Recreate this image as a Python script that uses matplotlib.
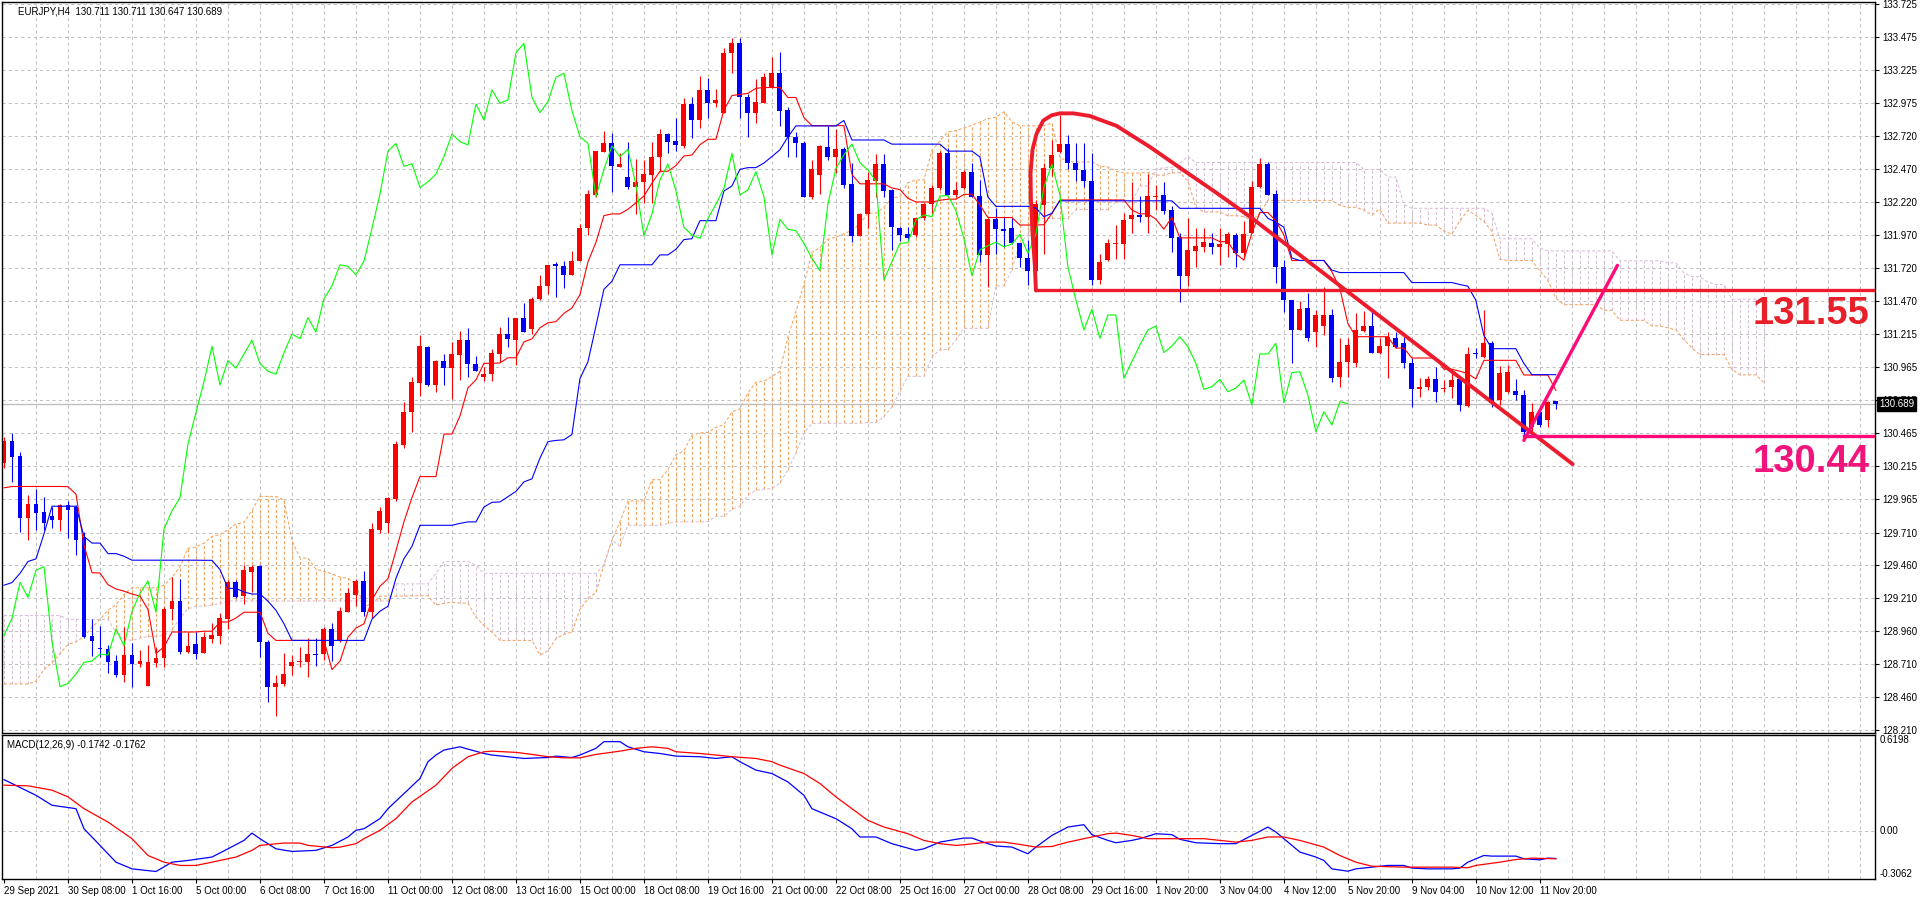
import numpy as np
import pandas as pd
import matplotlib
matplotlib.use("Agg")
import matplotlib.pyplot as plt
from matplotlib.transforms import blended_transform_factory

plt.rcParams['font.family'] = ['Liberation Sans', 'DejaVu Sans']

# EURJPY H4 candles, bar 0 = 29 Sep 2021 00:00
opens = [130.236, 130.405, 130.292, 129.823, 129.927, 129.866, 129.836, 129.805, 129.917, 129.907,
         129.678, 128.924, 128.835, 128.823, 128.734, 128.627, 128.779, 128.711, 128.546, 128.721,
         128.754, 129.126, 129.190, 128.805, 128.860, 128.792, 128.904, 128.926, 129.053, 129.331,
         129.230, 129.413, 129.458, 128.881, 128.539, 128.559, 128.696, 128.724, 128.729, 128.787,
         128.787, 128.977, 128.893, 129.109, 129.235, 129.342, 129.109, 129.729, 129.780, 129.965,
         130.375, 130.623, 130.849, 131.116, 130.834, 131.017, 130.959, 131.058, 131.171, 130.994,
         130.892, 130.913, 131.067, 131.218, 131.174, 131.343, 131.256, 131.483, 131.581, 131.750,
         131.733, 131.669, 131.771, 132.021, 132.274, 132.602, 132.666, 132.489, 132.410, 132.332,
         132.376, 132.427, 132.561, 132.738, 132.685, 132.647, 132.966, 132.845, 133.073, 132.976,
         132.900, 133.351, 133.427, 133.017, 132.900, 132.976, 133.093, 133.199, 132.921, 132.718,
         132.667, 132.262, 132.427, 132.642, 132.566, 132.622, 132.358, 131.963, 132.130, 132.384,
         132.510, 132.313, 132.021, 131.975, 131.971, 132.097, 132.204, 132.325, 132.591, 132.275,
         132.325, 132.452, 132.267, 131.819, 132.090, 132.019, 132.024, 131.913, 131.793, 131.700,
         132.199, 132.477, 132.604, 132.662, 132.520, 132.465, 132.381, 131.629, 131.781, 131.902,
         131.902, 132.090, 132.123, 132.110, 132.262, 132.275, 132.161, 131.958, 131.662, 131.852,
         131.882, 131.907, 131.882, 131.900, 131.971, 131.837, 131.983, 132.333, 132.508, 132.282,
         131.730, 131.477, 131.249, 131.414, 131.236, 131.282, 131.363, 130.889, 131.008, 130.996,
         131.244, 131.279, 131.077, 131.127, 131.186, 131.153, 130.996, 130.798, 130.813, 130.874,
         130.798, 130.813, 130.874, 130.671, 131.072, 131.046, 131.153, 130.717, 130.780, 130.788,
         130.755, 130.514, 130.628, 130.565, 130.711]
highs = [130.438, 130.464, 130.324, 129.995, 130.038, 129.982, 129.907, 129.927, 129.952, 129.920,
         129.717, 129.050, 129.002, 128.855, 128.779, 128.995, 128.868, 128.817, 128.855, 128.843,
         129.147, 129.375, 129.355, 128.954, 128.957, 128.957, 129.025, 129.096, 129.349, 129.349,
         129.463, 129.463, 129.463, 128.890, 128.627, 128.792, 128.777, 128.843, 128.906, 128.906,
         128.990, 129.020, 129.147, 129.286, 129.354, 129.418, 129.785, 129.907, 129.982, 130.408,
         130.704, 130.892, 131.212, 131.125, 131.020, 131.067, 131.154, 131.241, 131.264, 131.052,
         130.971, 131.105, 131.270, 131.349, 131.343, 131.454, 131.500, 131.669, 131.744, 131.762,
         131.771, 131.852, 132.055, 132.311, 132.608, 132.762, 132.745, 132.593, 132.675, 132.550,
         132.541, 132.680, 132.776, 132.748, 132.862, 133.009, 133.022, 133.179, 133.161, 133.078,
         133.389, 133.465, 133.465, 133.042, 133.154, 133.204, 133.326, 133.359, 132.941, 132.756,
         132.688, 132.541, 132.655, 132.799, 132.774, 132.642, 132.515, 132.140, 132.452, 132.586,
         132.586, 132.318, 132.029, 132.029, 132.102, 132.217, 132.351, 132.612, 132.629, 132.376,
         132.465, 132.515, 132.389, 132.097, 132.173, 132.110, 132.097, 131.913, 131.933, 132.237,
         132.520, 132.693, 132.883, 132.731, 132.672, 132.672, 132.591, 131.826, 131.938, 132.047,
         132.135, 132.376, 132.267, 132.434, 132.351, 132.376, 132.191, 131.983, 132.097, 132.021,
         132.021, 131.983, 132.021, 131.996, 131.983, 132.080, 132.384, 132.553, 132.528, 132.313,
         131.781, 131.477, 131.472, 131.533, 131.401, 131.578, 131.406, 131.186, 131.186, 131.376,
         131.396, 131.406, 131.186, 131.236, 131.236, 131.198, 131.034, 130.882, 130.900, 130.965,
         130.870, 130.932, 130.874, 131.117, 131.110, 131.401, 131.168, 130.975, 130.983, 130.874,
         130.793, 130.692, 130.666, 130.712, 130.711]
lows = [130.198, 130.096, 129.717, 129.653, 129.729, 129.729, 129.742, 129.722, 129.666, 129.539,
        128.906, 128.772, 128.767, 128.645, 128.610, 128.577, 128.534, 128.686, 128.546, 128.686,
        128.686, 129.045, 128.787, 128.792, 128.746, 128.792, 128.868, 128.863, 128.974, 129.210,
        129.167, 129.261, 128.767, 128.425, 128.318, 128.544, 128.627, 128.686, 128.615, 128.696,
        128.741, 128.736, 128.881, 129.109, 129.154, 129.078, 129.058, 129.704, 129.704, 129.950,
        130.355, 130.476, 130.747, 130.820, 130.776, 130.834, 130.727, 130.872, 130.892, 130.936,
        130.863, 130.863, 131.009, 131.116, 130.980, 131.233, 131.221, 131.474, 131.523, 131.500,
        131.570, 131.669, 131.771, 131.968, 132.259, 132.602, 132.297, 132.489, 132.317, 132.134,
        132.217, 132.217, 132.452, 132.596, 132.612, 132.629, 132.705, 132.786, 132.857, 132.941,
        132.900, 133.204, 132.862, 132.718, 132.824, 132.976, 133.085, 132.799, 132.566, 132.566,
        132.262, 132.244, 132.282, 132.541, 132.439, 132.325, 131.920, 131.963, 132.021, 132.262,
        132.262, 131.857, 131.928, 131.933, 131.958, 132.085, 132.135, 132.313, 132.275, 132.262,
        132.318, 132.262, 131.768, 131.578, 131.826, 131.882, 131.902, 131.730, 131.591, 131.692,
        131.826, 132.419, 132.591, 132.470, 132.384, 132.338, 131.591, 131.596, 131.776, 131.786,
        131.786, 131.989, 132.072, 131.989, 132.161, 132.128, 131.844, 131.464, 131.586, 131.730,
        131.844, 131.826, 131.743, 131.806, 131.730, 131.806, 131.983, 132.325, 132.275, 131.604,
        131.388, 131.001, 131.249, 131.168, 131.122, 131.211, 130.856, 130.818, 130.894, 130.965,
        131.236, 131.077, 131.067, 130.882, 131.110, 130.958, 130.666, 130.742, 130.793, 130.704,
        130.780, 130.730, 130.636, 130.666, 131.034, 131.034, 130.666, 130.679, 130.773, 130.717,
        130.413, 130.476, 130.514, 130.509, 130.647]
closes = [130.405, 130.286, 129.823, 129.927, 129.861, 129.785, 129.805, 129.917, 129.882, 129.653,
          128.919, 128.888, 128.823, 128.729, 128.627, 128.779, 128.711, 128.734, 128.724, 128.759,
          129.126, 129.190, 128.805, 128.848, 128.787, 128.914, 128.929, 129.058, 129.331, 129.218,
          129.424, 129.450, 128.881, 128.539, 128.564, 128.635, 128.724, 128.734, 128.787, 128.779,
          128.977, 128.850, 129.113, 129.248, 129.342, 129.104, 129.737, 129.874, 129.975, 130.383,
          130.623, 130.856, 131.125, 130.830, 131.017, 130.959, 131.067, 131.171, 130.994, 130.936,
          130.913, 131.076, 131.218, 131.183, 131.343, 131.233, 131.488, 131.584, 131.744, 131.733,
          131.669, 131.771, 132.021, 132.282, 132.608, 132.666, 132.492, 132.512, 132.332, 132.375,
          132.434, 132.566, 132.738, 132.680, 132.655, 132.966, 132.845, 133.073, 132.971, 132.997,
          133.356, 133.427, 133.017, 132.900, 132.984, 133.169, 133.199, 132.916, 132.718, 132.667,
          132.262, 132.470, 132.647, 132.566, 132.622, 132.351, 131.963, 132.130, 132.389, 132.510,
          132.308, 132.029, 131.971, 131.945, 132.097, 132.204, 132.325, 132.591, 132.275, 132.313,
          132.452, 132.262, 131.819, 132.090, 132.014, 132.004, 131.907, 131.793, 131.700, 132.206,
          132.477, 132.579, 132.662, 132.520, 132.465, 132.381, 131.629, 131.768, 131.907, 131.913,
          132.085, 132.123, 132.110, 132.267, 132.270, 132.156, 131.945, 131.662, 131.857, 131.890,
          131.915, 131.882, 131.902, 131.976, 131.831, 131.976, 132.333, 132.508, 132.275, 131.730,
          131.477, 131.249, 131.406, 131.186, 131.363, 131.363, 130.882, 131.008, 131.135, 131.249,
          131.279, 131.077, 131.127, 131.198, 131.122, 130.996, 130.798, 130.818, 130.874, 130.780,
          130.808, 130.869, 130.679, 131.067, 131.067, 131.148, 130.697, 130.925, 130.932, 130.755,
          130.476, 130.628, 130.527, 130.704, 130.689]

# ichimoku values for the first bars (their look-back starts left of the chart)
tenkan_head = [130.05, 130.06, 130.06, 130.06, 130.06, 130.06, 130.06, 130.06]
kijun_head = [129.31, 129.33, 129.40, 129.49, 129.51, 129.70, 129.91, 129.91, 129.91, 129.91,
              129.68, 129.63, 129.63, 129.55, 129.55, 129.53, 129.50, 129.50, 129.50, 129.50,
              129.50, 129.50, 129.50, 129.50, 129.50]
span_a_head = [128.56, 128.56, 128.56, 128.56, 128.58, 128.67, 128.72, 128.79, 128.86, 128.88,
               128.92, 128.99, 129.05, 129.12, 129.16, 129.24, 129.29, 129.29, 129.29, 129.29,
               129.31, 129.37, 129.45, 129.59, 129.60, 129.63]
span_b_head = ([129.08] * 8 + [129.05] * 6 +
               [128.95, 128.90, 128.89, 128.91, 128.92, 128.92, 128.93, 128.97, 129.06, 129.13,
                129.15, 129.15, 129.16, 129.17] +
               [129.19] * 21 + [129.32] * 5 + [129.40] + [129.49] * 4 + [129.46] +
               [129.40] * 15 + [129.46, 129.65])

# MACD(12,26,9), read at the bars listed
macd_main_bars = [0, 4, 6, 9, 10, 12, 14, 16, 19, 21, 23, 26, 28, 30, 31, 32, 34, 36, 39, 41,
                  43, 44, 45, 47, 48, 50, 52, 53, 54, 55, 57, 58, 60, 61, 63, 65, 68, 69, 71, 72,
                  74, 75, 77, 78, 80, 82, 84, 87, 89, 91, 92, 94, 96, 98, 100, 101, 103, 104, 106, 107,
                  109, 111, 114, 115, 117, 119, 120, 121, 123, 124, 126, 128, 129, 131, 133, 135, 136, 138,
                  139, 141, 142, 144, 146, 147, 149, 152, 154, 156, 158, 159, 161, 162, 164, 165, 166, 168,
                  169, 171, 173, 175, 176, 178, 181, 182, 183, 185, 186, 189, 190, 192, 193, 194]
macd_main = [0.333, 0.232, 0.168, 0.146, 0.017, -0.090, -0.198, -0.241, -0.258, -0.198,
             -0.187, -0.165, -0.112, -0.058, -0.011, -0.047, -0.112, -0.129, -0.122, -0.090,
             -0.036, 0.007, 0.017, 0.082, 0.146, 0.243, 0.340, 0.448, 0.491, 0.523,
             0.544, 0.529, 0.501, 0.491, 0.480, 0.469, 0.475, 0.484, 0.475, 0.491,
             0.534, 0.577, 0.577, 0.544, 0.512, 0.501, 0.484, 0.480, 0.469, 0.480,
             0.448, 0.394, 0.372, 0.318, 0.232, 0.146, 0.103, 0.082, 0.017, -0.036,
             -0.036, -0.079, -0.122, -0.112, -0.069, -0.051, -0.043, -0.043, -0.079, -0.094,
             -0.101, -0.144, -0.101, -0.026, 0.028, 0.043, -0.021, -0.058, -0.073, -0.058,
             -0.047, -0.015, -0.021, -0.051, -0.073, -0.079, -0.079, -0.026, 0.028, -0.004,
             -0.090, -0.133, -0.165, -0.187, -0.241, -0.256, -0.241, -0.230, -0.219, -0.219,
             -0.236, -0.241, -0.241, -0.236, -0.198, -0.155, -0.159, -0.159, -0.176, -0.183,
             -0.172, -0.1742]
macd_signal_bars = [0, 3, 6, 8, 10, 13, 16, 18, 20, 22, 24, 26, 29, 31, 32, 35, 37, 38, 41, 42,
                    44, 45, 47, 49, 51, 54, 56, 58, 60, 61, 64, 66, 68, 70, 72, 74, 77, 79, 81, 83,
                    84, 87, 89, 91, 94, 96, 97, 100, 102, 104, 106, 108, 110, 113, 115, 117, 119,
                    120, 123, 125, 127, 129, 131, 133, 136, 138, 139, 141, 143, 146, 150, 152,
                    154, 156, 158, 160, 162, 165, 167, 169, 171, 175, 178, 181, 183, 184, 187,
                    189, 191, 194]
macd_signal = [0.297, 0.293, 0.265, 0.222, 0.146, 0.060, -0.047, -0.155, -0.198, -0.219,
               -0.219, -0.198, -0.165, -0.122, -0.090, -0.075, -0.075, -0.090, -0.105, -0.101,
               -0.079, -0.047, 0.007, 0.082, 0.189, 0.297, 0.405, 0.480, 0.512, 0.516,
               0.508, 0.495, 0.480, 0.473, 0.473, 0.495, 0.516, 0.534, 0.544, 0.534,
               0.512, 0.501, 0.491, 0.480, 0.469, 0.448, 0.426, 0.372, 0.308, 0.222,
               0.146, 0.071, 0.028, -0.015, -0.058, -0.079, -0.090,
               -0.086, -0.069, -0.069, -0.084, -0.101, -0.097, -0.069, -0.036, -0.015,
               -0.011, -0.026, -0.047, -0.047, -0.047, -0.058, -0.069, -0.058, -0.036,
               -0.036, -0.058, -0.101, -0.155, -0.198, -0.224, -0.230, -0.230, -0.230,
               -0.234, -0.219, -0.198, -0.181, -0.172, -0.1762]

time_labels = ["29 Sep 2021", "30 Sep 08:00", "1 Oct 16:00", "5 Oct 00:00", "6 Oct 08:00",
               "7 Oct 16:00", "11 Oct 00:00", "12 Oct 08:00", "13 Oct 16:00", "15 Oct 00:00",
               "18 Oct 08:00", "19 Oct 16:00", "21 Oct 00:00", "22 Oct 08:00", "25 Oct 16:00",
               "27 Oct 00:00", "28 Oct 08:00", "29 Oct 16:00", "1 Nov 20:00", "3 Nov 04:00",
               "4 Nov 12:00", "5 Nov 20:00", "9 Nov 04:00", "10 Nov 12:00", "11 Nov 20:00"]
price_labels = ["133.725", "133.475", "133.225", "132.975", "132.720", "132.470", "132.220",
                "131.970", "131.720", "131.470", "131.215", "130.965", "130.715", "130.465",
                "130.215", "129.965", "129.710", "129.460", "129.210", "128.960", "128.710",
                "128.460", "128.210"]
macd_top, macd_bottom = 0.6198, -0.3062

last_price = 130.689
resistance = 131.55
support = 130.44
# hand-drawn marks on the chart, (bar, price) anchors
arc_bars = [129.0, 128.88, 128.58, 128.38, 128.33, 128.58, 129.08, 129.92, 130.96, 132.0,
            133.67, 135.75, 139.08, 143.25, 147.4, 151.6, 155.75, 196.1]
arc_prices = [131.55, 131.73, 131.98, 132.24, 132.44, 132.62, 132.74, 132.84, 132.88, 132.895,
              132.895, 132.875, 132.80, 132.64, 132.465, 132.29, 132.11, 130.23]
rebound_bars = [190.0, 201.7]
rebound_prices = [130.41, 131.74]

# ---- indicators from the candles
df = pd.DataFrame({"open": opens, "high": highs, "low": lows, "close": closes})
n = len(df)
x = np.arange(n)
tenkan = ((df["high"].rolling(9).max() + df["low"].rolling(9).min()) / 2).to_numpy()
tenkan[:8] = tenkan_head
kijun = ((df["high"].rolling(26).max() + df["low"].rolling(26).min()) / 2).to_numpy()
kijun[:25] = kijun_head
span_a = np.concatenate([span_a_head, (tenkan + kijun) / 2])
mid52 = ((df["high"].rolling(52).max() + df["low"].rolling(52).min()) / 2).to_numpy()
span_b = np.concatenate([span_b_head, mid52[51:]])
cloud_x = np.arange(len(span_a))

# ---- figure layout (pixel boxes of the MT4 window)
W, H = 1920, 900
fig = plt.figure(figsize=(W / 100, H / 100), dpi=100, facecolor="white")


def box(x0, y0, x1, y1):
    return [x0 / W, 1 - y1 / H, (x1 - x0) / W, (y1 - y0) / H]


ax = fig.add_axes(box(2, 2, 1875, 733))
axm = fig.add_axes(box(2, 735, 1875, 879))
xlim = (-0.25, 233.9)
grid_c = "#C0C0C0"
dash = (0, (3, 3))

for a in (ax, axm):
    a.set_xlim(*xlim)
    for s in a.spines.values():
        s.set_color("black")
        s.set_linewidth(1)
    for gx in range(4, 234, 4):
        a.axvline(gx, color=grid_c, lw=0.75, ls=dash, zorder=0)

price_vals = [float(p) for p in price_labels]
ax.set_ylim(128.187, 133.741)
for p in price_vals:
    ax.axhline(p, color=grid_c, lw=0.75, ls=dash, zorder=0)
ax.set_yticks(price_vals)
ax.set_yticklabels(price_labels)
ax.yaxis.tick_right()
ax.tick_params(axis="y", length=3, width=0.8, pad=2, labelsize=7)
ax.tick_params(axis="x", bottom=False, labelbottom=False)

# cloud: dotted vertical strokes per bar
up = span_a >= span_b
cloud_col = np.where(up, "#F4A460", "#D8BFD8")
ax.vlines(cloud_x, np.minimum(span_a, span_b), np.maximum(span_a, span_b),
          colors=cloud_col, linestyles=[(0, (3, 2))], lw=0.75, zorder=1)
ax.plot(cloud_x, span_a, color="#F4A460", lw=0.75, ls=(0, (3, 2)), zorder=1)
ax.plot(cloud_x, span_b, color="#D8BFD8", lw=0.75, ls=(0, (3, 2)), zorder=1)

# bid line
ax.axhline(last_price, color="#C0C0C0", lw=1, zorder=1.5)

# candles
o = df["open"].to_numpy()
c = df["close"].to_numpy()
col = np.where(c >= o, "#FF0000", "#0000FF")
ax.vlines(x, df["low"], df["high"], colors=col, lw=0.8, zorder=2)
body = np.maximum(np.abs(c - o), 0.007)
ax.bar(x, body, bottom=np.minimum(o, c), width=0.62, color=col, lw=0, zorder=2.5)

# tenkan, kijun, chikou
ax.plot(x, tenkan, color="#FF0000", lw=0.8, zorder=3)
ax.plot(x, kijun, color="#0000FF", lw=0.8, zorder=3)
ax.plot(x[:-26], c[26:], color="#00FF00", lw=0.8, zorder=3)

# hand-drawn analysis
red_mark = "#EC1C2C"
pink_mark = "#FF0A78"
ax.plot(arc_bars, arc_prices, color=red_mark, lw=2.8, solid_joinstyle="round",
        solid_capstyle="round", zorder=4)
ax.plot([arc_bars[0], xlim[1] + 5], [resistance, resistance], color=red_mark, lw=2.4, zorder=4)
ax.plot(rebound_bars, rebound_prices, color=pink_mark, lw=2.4, solid_capstyle="round", zorder=4)
ax.plot([rebound_bars[0], xlim[1] + 5], [support, support], color=pink_mark, lw=2.4, zorder=4)
ax.text(233.25, 131.294, f"{resistance:.2f}", ha="right", va="baseline", fontsize=27.5,
        fontweight="bold", color="#E8202A", zorder=5)
ax.text(233.25, 130.172, f"{support:.2f}", ha="right", va="baseline", fontsize=27.5,
        fontweight="bold", color="#F0147C", zorder=5)

# current price box on the axis
tr = blended_transform_factory(ax.transAxes, ax.transData)
ax.text(1 + 4 / 1873, last_price, f"{last_price:.3f}", transform=tr, ha="left", va="center",
        fontsize=7, color="white", clip_on=False, zorder=6,
        bbox=dict(facecolor="black", edgecolor="black", boxstyle="square,pad=0.2"))

fig.text(18 / W, 1 - 11 / H, "EURJPY,H4  130.711 130.711 130.647 130.689",
         fontsize=7, va="center", ha="left")

# ---- MACD panel
axm.set_ylim(macd_bottom, macd_top)
axm.axhline(0, color=grid_c, lw=0.75, ls=dash, zorder=0)
axm.plot(macd_main_bars, macd_main, color="#0000FF", lw=0.9, zorder=3)
axm.plot(macd_signal_bars, macd_signal, color="#FF0000", lw=0.9, zorder=3)
axm.set_yticks([])
trm = blended_transform_factory(axm.transAxes, axm.transData)
axm.text(1 + 5 / 1873, macd_top, f"{macd_top:.4f}", transform=trm, ha="left", va="top", fontsize=7)
axm.text(1 + 5 / 1873, 0, "0.00", transform=trm, ha="left", va="center", fontsize=7)
axm.text(1 + 5 / 1873, macd_bottom, f"{macd_bottom:.4f}", transform=trm, ha="left",
         va="bottom", fontsize=7)
fig.text(7 / W, 1 - 745 / H, f"MACD(12,26,9) {macd_main[-1]:.4f} {macd_signal[-1]:.4f}",
         fontsize=7, va="center", ha="left")

label_bars = list(range(0, 8 * len(time_labels), 8))
axm.set_xticks(label_bars)
axm.set_xticklabels(time_labels)
axm.tick_params(axis="x", length=3, width=0.8, pad=2, labelsize=7)
for lbl in axm.get_xticklabels():
    lbl.set_horizontalalignment("left")

fig.savefig("out.png", dpi=100, facecolor="white")
